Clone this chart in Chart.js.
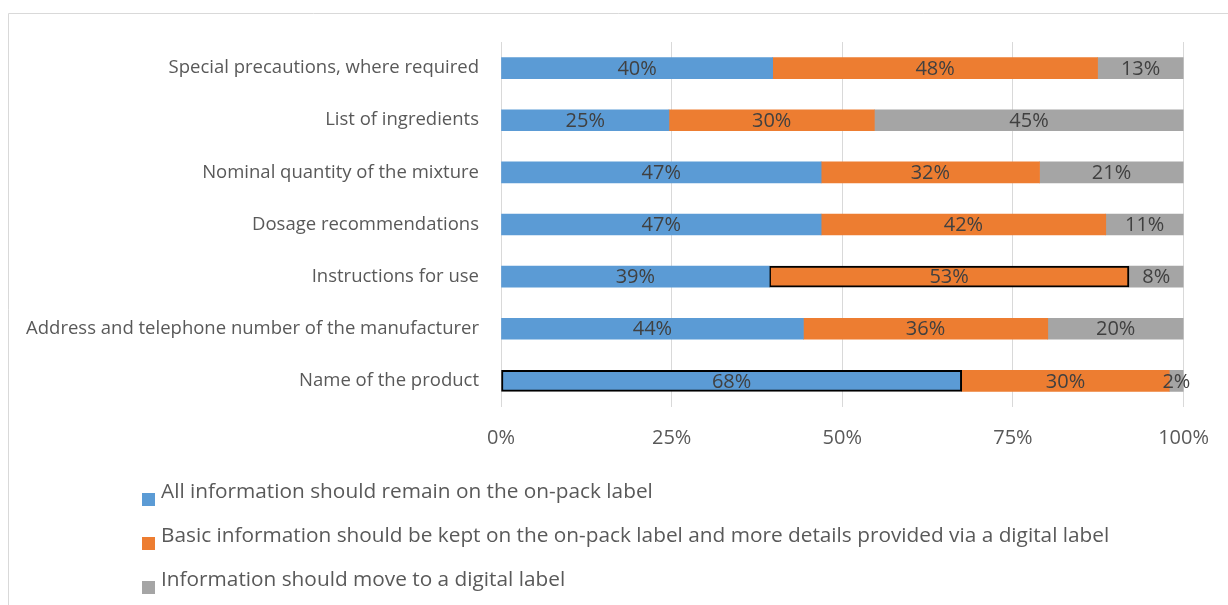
<!DOCTYPE html>
<html>
<head>
<meta charset="utf-8">
<script src="https://cdn.jsdelivr.net/npm/chart.js@4.4.1/dist/chart.umd.min.js"></script>
<style>
  html, body { margin: 0; padding: 0; background: #fff; }
  #wrap { position: relative; width: 1228px; height: 605px; }
</style>
</head>
<body>
<div id="wrap"><canvas id="c" width="1228" height="605"></canvas></div>
<script>
const categories = [
  "Special precautions, where required",
  "List of ingredients",
  "Nominal quantity of the mixture",
  "Dosage recommendations",
  "Instructions for use",
  "Address and telephone number of the manufacturer",
  "Name of the product"
];
const seriesNames = [
  "All information should remain on the on-pack label",
  "Basic information should be kept on the on-pack label and more details provided via a digital label",
  "Information should move to a digital label"
];
const onPack =   [39.8, 24.6, 46.9, 46.9, 39.3, 44.3, 67.5];
const basic =    [47.6, 30.1, 32.0, 41.7, 52.7, 35.8, 30.4];
const digital =  [12.6, 45.3, 21.1, 11.4,  8.0, 19.9,  2.1];
const tickValues = [0, 25, 50, 75, 100];
const colors = ["#5B9BD5", "#ED7D31", "#A5A5A5"];
// segments outlined in black in the reference: [series index, category index]
const outlined = [[0, 6], [1, 4]];

const FONT = "'Open Sans', 'Noto Sans', sans-serif";

function borderWidths(si) {
  return categories.map((_, ci) => outlined.some(o => o[0] === si && o[1] === ci) ? 2 : 0);
}

const valueLabels = {
  id: 'valueLabels',
  afterDatasetsDraw(chart) {
    const ctx = chart.ctx;
    ctx.save();
    ctx.font = "20px " + FONT;
    ctx.fillStyle = "#404040";
    ctx.textAlign = "center";
    ctx.textBaseline = "middle";
    chart.data.datasets.forEach((ds, di) => {
      const meta = chart.getDatasetMeta(di);
      meta.data.forEach((bar, i) => {
        const v = ds.data[i];
        const x = (bar.x + bar.base) / 2;
        ctx.fillText(Math.round(v) + "%", x, bar.y + 1);
      });
    });
    ctx.restore();
  }
};

const frameAndLegend = {
  id: 'frameAndLegend',
  afterDraw(chart) {
    const ctx = chart.ctx;
    ctx.save();
    ctx.strokeStyle = "#D9D9D9";
    ctx.lineWidth = 1;
    ctx.beginPath();
    ctx.moveTo(8.5, 700);
    ctx.lineTo(8.5, 13.5);
    ctx.lineTo(1300, 13.5);
    ctx.stroke();
    // legend
    ctx.font = "20.8px " + FONT;
    ctx.textAlign = "left";
    ctx.textBaseline = "alphabetic";
    chart.data.datasets.forEach((ds, i) => {
      const base = 498 + i * 44;
      ctx.fillStyle = ds.backgroundColor;
      ctx.fillRect(142, base - 5, 13, 13);
      ctx.fillStyle = "#595959";
      ctx.fillText(ds.label, 161, base);
    });
    ctx.restore();
  }
};

new Chart(document.getElementById('c'), {
  type: 'bar',
  data: {
    labels: categories,
    datasets: [onPack, basic, digital].map((d, i) => ({
      label: seriesNames[i],
      data: d,
      backgroundColor: colors[i],
      borderColor: "#000000",
      borderWidth: borderWidths(i),
      borderSkipped: false,
      barThickness: 21
    }))
  },
  options: {
    indexAxis: 'y',
    responsive: false,
    animation: false,
    layout: { padding: { left: 0, right: 43, top: 42, bottom: 0 } },
    plugins: {
      legend: { display: false },
      tooltip: { enabled: false }
    },
    scales: {
      x: {
        stacked: true,
        min: 0,
        max: 100,
        afterFit(scale) { scale.height = 198; },
        afterBuildTicks(scale) { scale.ticks = tickValues.map(v => ({ value: v })); },
        grid: { color: "#D9D9D9", lineWidth: 1, drawTicks: false },
        border: { display: false },
        ticks: {
          padding: 19,
          color: "#595959",
          font: { family: FONT, size: 20 },
          callback: v => v + "%"
        }
      },
      y: {
        stacked: true,
        afterFit(scale) { scale.width = 501; },
        grid: { display: false },
        border: { display: false },
        ticks: {
          padding: 14,
          color: "#595959",
          font: { family: FONT, size: 18.5 }
        }
      }
    }
  },
  plugins: [valueLabels, frameAndLegend]
});
</script>
</body>
</html>
